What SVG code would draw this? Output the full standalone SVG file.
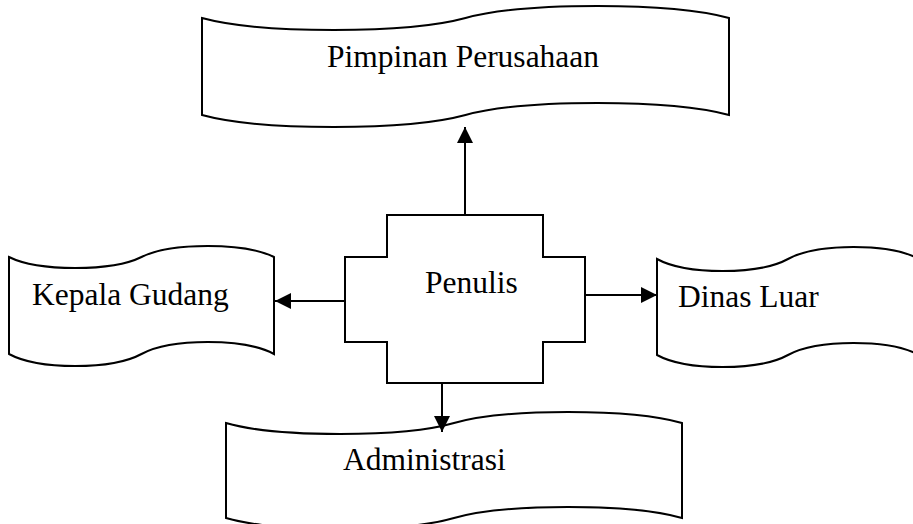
<svg xmlns="http://www.w3.org/2000/svg" width="913" height="524" viewBox="0 0 913 524">
  <style>
    .shape { fill: #ffffff; stroke: #000000; stroke-width: 2; stroke-linejoin: miter; }
    .label { font-family: "Liberation Serif", "Times New Roman", serif; font-size: 31.5px; fill: #000000; }
    .link { fill: none; stroke: #000000; stroke-width: 2; }
  </style>
  <defs>
    <marker id="arrow" markerUnits="userSpaceOnUse" markerWidth="16" markerHeight="16" viewBox="0 0 16 16" refX="16" refY="8" orient="auto">
      <path d="M0,0 L16,8 L0,16 Z" fill="#000000"/>
    </marker>
  </defs>

  <rect width="913" height="524" fill="#ffffff"/>

  <!-- punched-tape boxes (wavy top and bottom edges) -->
  <g id="pimpinan-perusahaan">
    <path class="shape" d="M202,18 C234.94,27 281.05,30 333.75,30 C386.45,30 432.56,27 465.5,18 C498.44,9 544.55,6 597.25,6 C649.95,6 696.06,9 729,18 L729,115 C696.06,106 649.95,103 597.25,103 C544.55,103 498.44,106 465.5,115 C432.56,124 386.45,127 333.75,127 C281.05,127 234.94,124 202,115 Z"/>
    <text class="label" x="327" y="67">Pimpinan Perusahaan</text>
  </g>

  <g id="kepala-gudang">
    <path class="shape" d="M9,257 C25.56,265.25 48.75,268 75.25,268 C101.75,268 124.94,265.25 141.5,257 C158.06,248.75 181.25,246 207.75,246 C234.25,246 257.44,248.75 274,257 L274,354 C257.44,345 234.25,342 207.75,342 C181.25,342 158.06,345 141.5,354 C124.94,363 101.75,366 75.25,366 C48.75,366 25.56,363 9,354 Z"/>
    <text class="label" x="32" y="305">Kepala Gudang</text>
  </g>

  <g id="dinas-luar">
    <path class="shape" d="M657,259 C673.38,268 696.3,271 722.5,271 C748.7,271 771.63,268 788,259 C804.38,250 827.3,247 853.5,247 C879.7,247 902.63,250 919,259 L919,355 C902.63,346 879.7,343 853.5,343 C827.3,343 804.38,346 788,355 C771.63,364 748.7,367 722.5,367 C696.3,367 673.38,364 657,355 Z"/>
    <text class="label" x="678" y="307">Dinas Luar</text>
  </g>

  <g id="administrasi">
    <path class="shape" d="M226,423 C254.5,431.25 294.4,434 340,434 C385.6,434 425.5,431.25 454,423 C482.5,414.75 522.4,412 568,412 C613.6,412 653.5,414.75 682,423 L682,518 C653.5,509.75 613.6,507 568,507 C522.4,507 482.5,509.75 454,518 C425.5,526.25 385.6,529 340,529 C294.4,529 254.5,526.25 226,518 Z"/>
    <text class="label" x="343" y="470">Administrasi</text>
  </g>

  <!-- central stepped box -->
  <g id="penulis">
    <path class="shape" d="M387,215 L543,215 L543,257 L585,257 L585,342 L543,342 L543,383 L387,383 L387,342 L345,342 L345,257 L387,257 Z"/>
    <text class="label" x="425" y="293">Penulis</text>
  </g>

  <!-- connectors -->
  <g id="connectors">
    <line class="link" x1="465" y1="215" x2="465" y2="127" marker-end="url(#arrow)"/>
    <line class="link" x1="345" y1="301" x2="275" y2="301" marker-end="url(#arrow)"/>
    <line class="link" x1="585" y1="295" x2="657" y2="295" marker-end="url(#arrow)"/>
    <line class="link" x1="442" y1="383" x2="442" y2="432" marker-end="url(#arrow)"/>
  </g>
</svg>
